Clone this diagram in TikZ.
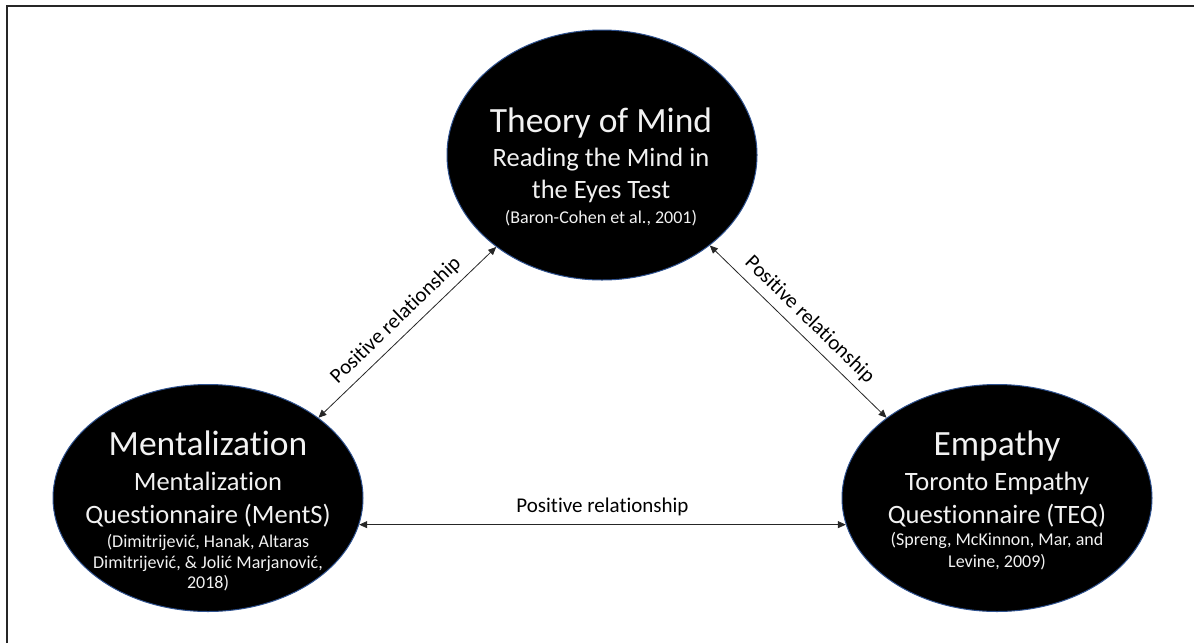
\documentclass[tikz,border=0pt]{standalone}
\usepackage{fontspec}
\setmainfont{Carlito}[Ligatures={NoCommon}]
\usetikzlibrary{shapes.geometric,arrows.meta}
\definecolor{txtcol}{HTML}{F2F2F2}
\definecolor{rim}{HTML}{2F528F}
\begin{document}
\begin{tikzpicture}[x=1pt,y=-1pt,
  bubble/.style={ellipse, fill=black, draw=rim, line width=1pt,
    minimum width=310pt, minimum height=227pt, inner sep=0pt},
  tline/.style={text=txtcol, anchor=base, inner sep=0pt},
  fbig/.style={font=\fontsize{35.5}{38}\selectfont},
  fmid/.style={font=\fontsize{26.5}{28}\selectfont},
  fsmall/.style={font=\fontsize{18}{20}\selectfont},
  rel/.style={{Triangle[length=8pt,width=7pt]}-{Triangle[length=8pt,width=7pt]},
    line width=0.8pt, draw=black!85},
  rellabel/.style={font=\fontsize{21}{23}\selectfont, inner sep=4pt}
]
\useasboundingbox (0,0) rectangle (1194,643);
% outer frame (left and top edges)
\draw[line width=1.6pt, black!85] (7,643) -- (7,6) -- (1194,6);

% the three constructs
\node[bubble, minimum height=250pt] (tom) at (602,155) {};
\node[bubble] (ment) at (208,498) {};
\node[bubble] (emp) at (997,498) {};

% Theory of Mind
\node[tline,fbig]   (tom1) at (601,132) {Theory of Mind};
\node[tline,fmid]   (tom2) at (601,166) {Reading the Mind in};
\node[tline,fmid]   (tom3) at (601,198) {the Eyes Test};
\node[tline,fsmall] (tom4) at (601,223) {(Baron-Cohen et al., 2001)};

% Mentalization
\node[tline,fbig]   (ment1) at (208,455) {Mentalization};
\node[tline,fmid]   (ment2) at (208,490) {Mentalization};
\node[tline,fmid]   (ment3) at (208,523) {Questionnaire (MentS)};
\node[tline,fsmall] (ment4) at (208,547) {(Dimitrijević, Hanak, Altaras};
\node[tline,fsmall] (ment5) at (208,568) {Dimitrijević, \& Jolić Marjanović,};
\node[tline,fsmall] (ment6) at (208,588) {2018)};

% Empathy
\node[tline,fbig]   (emp1) at (997,455) {Empathy};
\node[tline,fmid]   (emp2) at (997,490) {Toronto Empathy};
\node[tline,fmid]   (emp3) at (997,523) {Questionnaire (TEQ)};
\node[tline,fsmall] (emp4) at (997,545) {(Spreng, McKinnon, Mar, and};
\node[tline,fsmall] (emp5) at (997,567) {Levine, 2009)};

% relationships
\draw[rel] (ment.36) -- node[rellabel, sloped, above=3pt] (l1) {Positive relationship} (tom.221);
\draw[rel] (tom.320) -- node[rellabel, sloped, above=3pt] (l2) {Positive relationship} (emp.144);
\draw[rel] (ment.-10) -- node[rellabel, above=4pt] (l3) {Positive relationship} (emp.190);
\end{tikzpicture}
\end{document}
